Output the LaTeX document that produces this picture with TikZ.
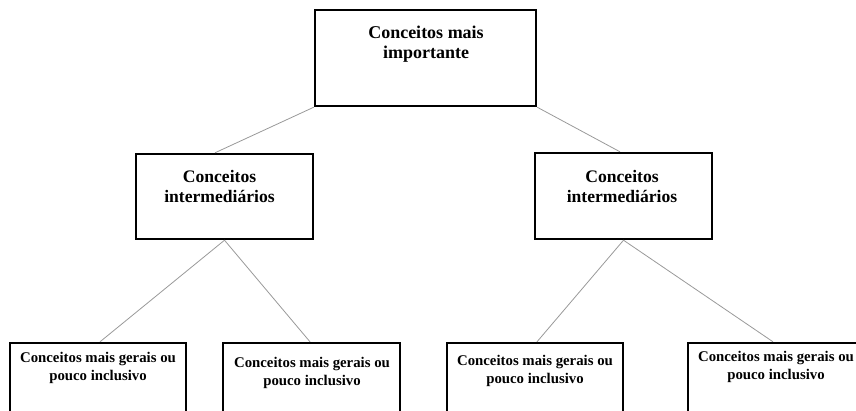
\documentclass[tikz,border=0pt]{standalone}
\usepackage{fontspec}
\setmainfont{Liberation Serif}
\begin{document}
\begin{tikzpicture}[x=1pt,y=-1pt,
  box/.style={draw=black,line width=2.4pt,fill=none,inner sep=0pt,rectangle},
  bigtxt/.style={font=\fontsize{18}{20}\selectfont\bfseries,align=center,inner sep=0pt},
  midtxt/.style={font=\fontsize{17.6}{20}\selectfont\bfseries,align=center,inner sep=0pt},
  smalltxt/.style={font=\fontsize{14.8}{18}\selectfont\bfseries,align=center,inner sep=0pt},
  link/.style={draw=black!40,line width=0.8pt}]
\useasboundingbox (0,0) rectangle (856,410);
\clip (0,0) rectangle (856,410);
% boxes
\node[box,minimum width=221pt,minimum height=96pt] (top) at (425.5,58) {};
\node[box,minimum width=177pt,minimum height=85pt] (midL) at (224.5,196.5) {};
\node[box,minimum width=177pt,minimum height=86pt] (midR) at (623.5,196) {};
\node[box,minimum width=176pt,minimum height=100pt] (b1) at (98,393) {};
\node[box,minimum width=177pt,minimum height=100pt] (b2) at (311.5,393) {};
\node[box,minimum width=176pt,minimum height=100pt] (b3) at (535,393) {};
\node[box,minimum width=176pt,minimum height=100pt] (b4) at (776,393) {};
% texts
\node[bigtxt] (ttop) at (426,44) {Conceitos mais\\importante};
\node[midtxt] (tmidL) at (219.5,186) {Conceitos\\intermediários};
\node[midtxt] (tmidR) at (622,186) {Conceitos\\intermediários};
\node[smalltxt] (tb1) at (98,368) {Conceitos mais gerais ou\\pouco inclusivo};
\node[smalltxt] (tb2) at (312,373) {Conceitos mais gerais ou\\pouco inclusivo};
\node[smalltxt] (tb3) at (535,371) {Conceitos mais gerais ou\\pouco inclusivo};
\node[smalltxt] (tb4) at (776,367) {Conceitos mais gerais ou\\pouco inclusivo};
% connectors
\draw[link] (top.south west) -- ([xshift=-9.5pt]midL.north);
\draw[link] (top.south east) -- ([xshift=-3.5pt]midR.north);
\draw[link] (midL.south) -- ([xshift=2pt]b1.north);
\draw[link] (midL.south) -- ([xshift=-1.5pt]b2.north);
\draw[link] (midR.south) -- ([xshift=2pt]b3.north);
\draw[link] (midR.south) -- ([xshift=-3pt]b4.north);
\end{tikzpicture}
\end{document}
